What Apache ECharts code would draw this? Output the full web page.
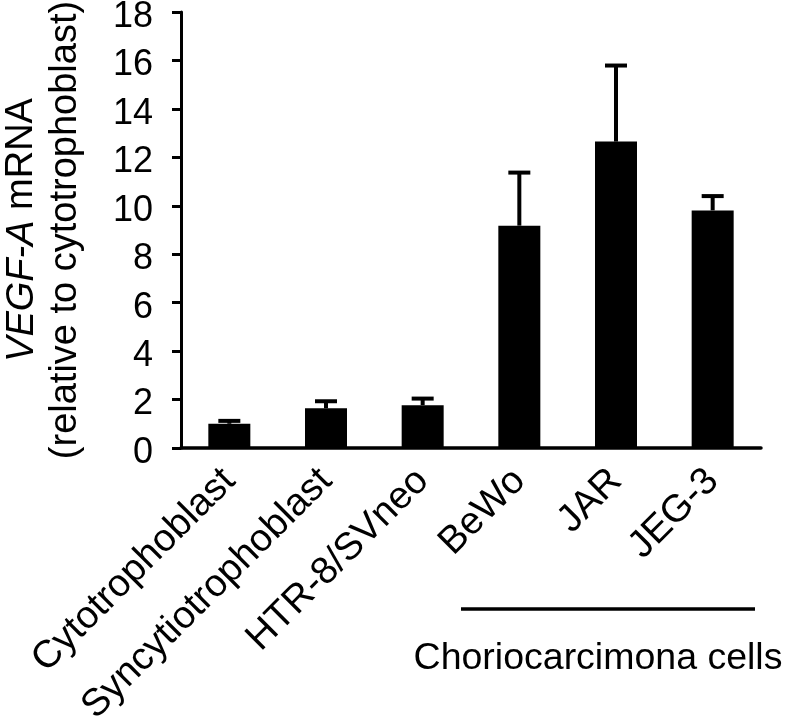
<!DOCTYPE html>
<html>
<head>
<meta charset="utf-8">
<script src="https://cdn.jsdelivr.net/npm/echarts@6/dist/echarts.min.js"></script>
<style>
html,body{margin:0;padding:0;background:#fff;}
#chart{width:787px;height:718px;}
</style>
</head>
<body>
<div id="chart"></div>
<script>
const categories = ['Cytotrophoblast', 'Syncytiotrophoblast', 'HTR-8/SVneo', 'BeWo', 'JAR', 'JEG-3'];
const means = [1.0, 1.64, 1.77, 9.18, 12.65, 9.81];
const sds = [0.12, 0.29, 0.27, 2.19, 3.14, 0.59];
const yTicks = { min: 0, max: 18, interval: 2 };
const groupLabel = 'Choriocarcimona cells';

const FONT = "'Liberation Sans', Arial, Helvetica, sans-serif";
const chart = echarts.init(document.getElementById('chart'), null, { renderer: 'canvas' });

const errData = means.map((m, i) => [i, m, m + sds[i]]);

chart.setOption({
  animation: false,
  backgroundColor: '#fff',
  grid: { left: 181, right: 26, top: 12, bottom: 270, containLabel: false, outerBoundsMode: 'none' },
  xAxis: {
    type: 'category',
    data: categories,
    axisLine: { lineStyle: { color: '#000', width: 3.5 } },
    axisTick: { show: false },
    axisLabel: {
      interval: 0, rotate: 45, margin: 27,
      color: '#000', fontSize: 38.5, fontFamily: FONT
    },
    splitLine: { show: false }
  },
  yAxis: {
    type: 'value',
    min: yTicks.min, max: yTicks.max, interval: yTicks.interval,
    axisLine: { show: true, lineStyle: { color: '#000', width: 3 } },
    axisTick: { show: true, inside: false, length: 9, lineStyle: { color: '#000', width: 3 } },
    axisLabel: {
      color: '#000', fontSize: 36, fontFamily: FONT, margin: 28,
      formatter: '{v|{value}}',
      rich: { v: { fontSize: 36, fontFamily: FONT, color: '#000', padding: [10, 0, 0, 0] } }
    },
    splitLine: { show: false },
    name: '{it|VEGF-A} mRNA\n(relative to cytotrophoblast)',
    nameLocation: 'middle',
    nameRotate: 90,
    nameGap: 93,
    nameTextStyle: {
      color: '#000', fontSize: 38, fontFamily: FONT, lineHeight: 44,
      rich: { it: { fontStyle: 'italic', fontSize: 38, fontFamily: FONT, color: '#000', lineHeight: 44 } }
    }
  },
  series: [
    {
      type: 'bar',
      data: means,
      barWidth: 42,
      itemStyle: { color: '#000' },
      z: 2
    },
    {
      type: 'custom',
      data: errData,
      z: 3,
      renderItem: function (params, api) {
        const x = api.value(0);
        const base = api.coord([x, api.value(1)]);
        const top = api.coord([x, api.value(2)]);
        const half = 11;
        return {
          type: 'group',
          children: [
            { type: 'line', shape: { x1: base[0], y1: base[1], x2: top[0], y2: top[1] },
              style: { stroke: '#000', lineWidth: 4 } },
            { type: 'line', shape: { x1: top[0] - half, y1: top[1], x2: top[0] + half, y2: top[1] },
              style: { stroke: '#000', lineWidth: 4 } }
          ]
        };
      }
    }
  ],
  graphic: [
    { type: 'line', shape: { x1: 461, y1: 609, x2: 755, y2: 609 }, style: { stroke: '#000', lineWidth: 3.5 } },
    { type: 'text', x: 598, y: 659, style: { text: groupLabel, fontSize: 37.5, fontFamily: FONT, fill: '#000', align: 'center', verticalAlign: 'middle' } }
  ]
});
</script>
</body>
</html>
